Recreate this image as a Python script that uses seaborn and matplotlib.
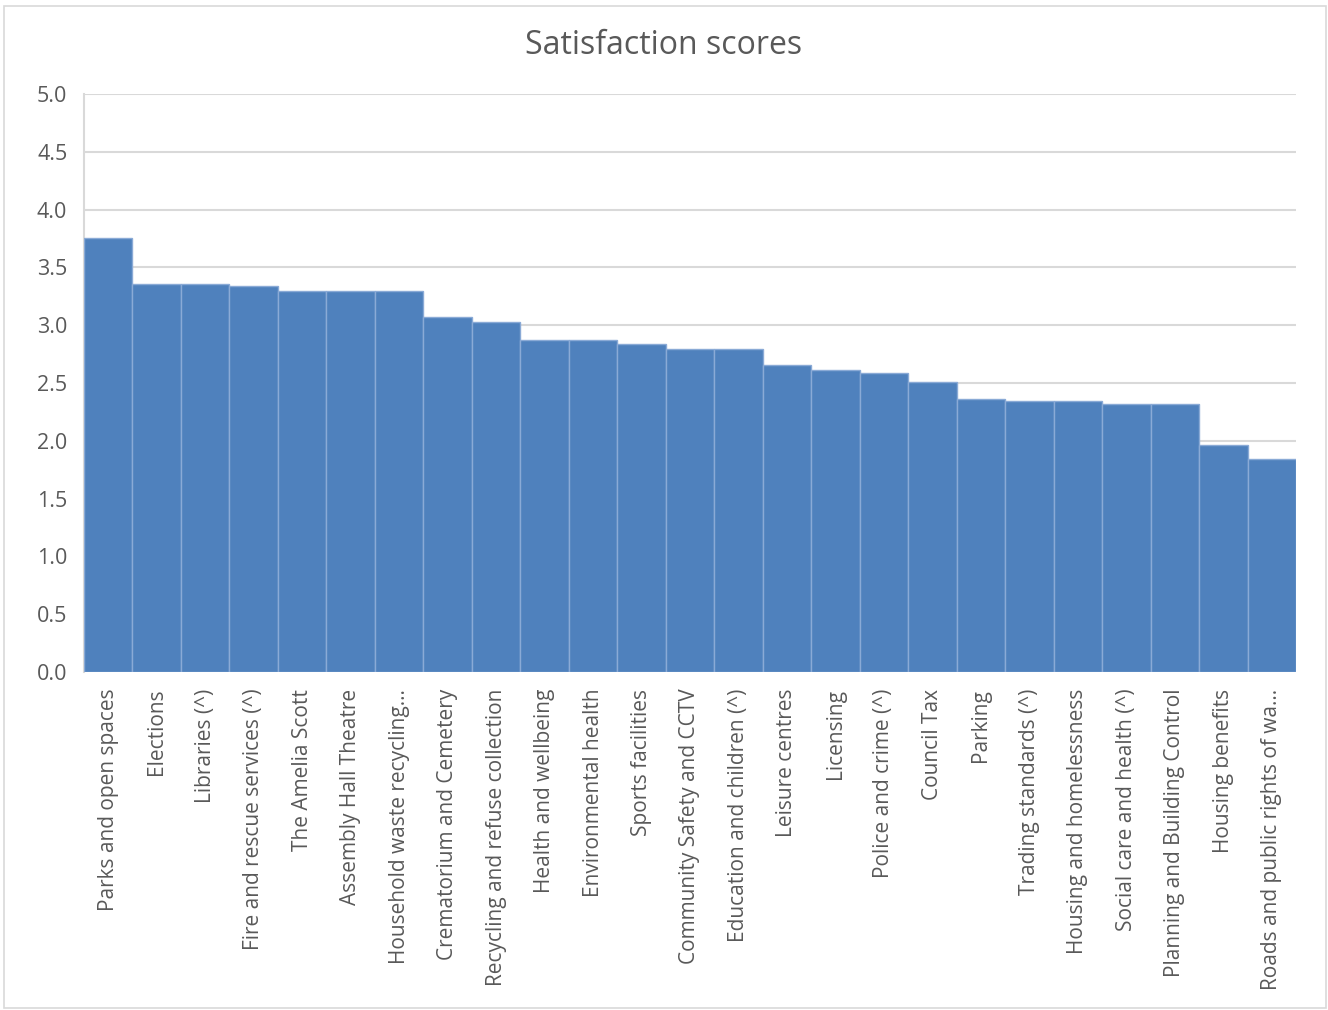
import matplotlib
matplotlib.use("Agg")
import matplotlib.pyplot as plt
import seaborn as sns
import pandas as pd
from matplotlib.patches import Rectangle

services = [
    "Parks and open spaces", "Elections", "Libraries (^)", "Fire and rescue services (^)",
    "The Amelia Scott", "Assembly Hall Theatre", "Household waste recycling…",
    "Crematorium and Cemetery", "Recycling and refuse collection", "Health and wellbeing",
    "Environmental health", "Sports facilities", "Community Safety and CCTV",
    "Education and children (^)", "Leisure centres", "Licensing", "Police and crime (^)",
    "Council Tax", "Parking", "Trading standards (^)", "Housing and homelessness",
    "Social care and health (^)", "Planning and Building Control", "Housing benefits",
    "Roads and public rights of wa…",
]
scores = [
    3.75, 3.36, 3.355, 3.34, 3.295, 3.295, 3.295,
    3.075, 3.03, 2.875, 2.875, 2.84, 2.795,
    2.79, 2.655, 2.61, 2.59, 2.505, 2.36, 2.345, 2.345,
    2.32, 2.315, 1.96, 1.84,
]
y_ticks = [0.0, 0.5, 1.0, 1.5, 2.0, 2.5, 3.0, 3.5, 4.0, 4.5, 5.0]

df = pd.DataFrame({"service": services, "score": scores})

sns.set_theme(style="white")
plt.rcParams["font.family"] = ["Open Sans", "DejaVu Sans"]

fig = plt.figure(figsize=(13.28, 10.10), dpi=100)
ax = fig.add_axes([84 / 1328, 1 - 672 / 1010, (1296 - 84) / 1328, (672 - 94) / 1010])

sns.barplot(data=df, x="service", y="score", color="#4F81BD", saturation=1,
            width=1.0, edgecolor="#8AAAD6", linewidth=1.0, ax=ax, zorder=3)

ax.set_xlim(-0.5, len(services) - 0.5)
ax.set_ylim(0, 5.0)
ax.set_yticks(y_ticks)
ax.set_yticklabels([f"{v:.1f}" for v in y_ticks])
ax.yaxis.grid(True, color="#D9D9D9", linewidth=1.5, zorder=0)
ax.set_axisbelow(True)

for side in ["top", "right", "bottom"]:
    ax.spines[side].set_visible(False)
ax.spines["left"].set_color("#D9D9D9")
ax.spines["left"].set_linewidth(1.5)

ax.tick_params(axis="y", length=0, labelsize=15.5, colors="#595959", pad=12)
ax.tick_params(axis="x", length=0, labelsize=15, colors="#595959", pad=12)
plt.setp(ax.get_xticklabels(), rotation=90, ha="center", va="top")

ax.set_xlabel("")
ax.set_ylabel("")
fig.text(0.5, 1 - 45 / 1010, "Satisfaction scores", ha="center", va="center",
         fontsize=23, color="#595959")

fig.patches.append(Rectangle((4 / 1328, 2 / 1010), 1322 / 1328, 1002 / 1010,
                             transform=fig.transFigure, fill=False,
                             edgecolor="#D9D9D9", linewidth=1.2))

fig.savefig("out.png", dpi=100)
